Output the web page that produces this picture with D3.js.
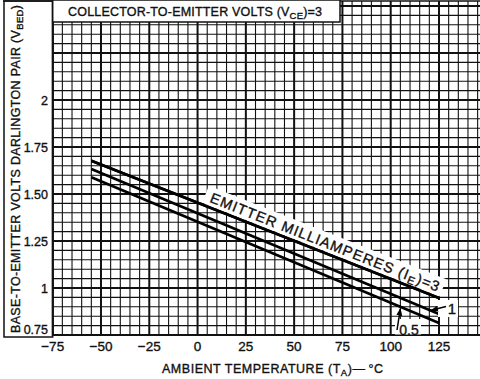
<!DOCTYPE html>
<html>
<head>
<meta charset="utf-8">
<script src="https://cdn.jsdelivr.net/npm/d3@7"></script>
<style>
  html, body { margin: 0; padding: 0; background: #fff; }
  svg { display: block; }
  text { font-family: "Liberation Sans", "DejaVu Sans", sans-serif; fill: #111; stroke: #111; stroke-width: 0.35; }
</style>
</head>
<body>
<svg id="chart" width="480" height="379"></svg>
<script>
// Ambient temperature (°C) at the ends of each curve
const temps = [-55, 125];
// Base-to-emitter volts of the Darlington pair for each emitter current
const vbedIE3 = [1.677, 0.947];
const vbedIE1 = [1.633, 0.862];
const vbedIE05 = [1.589, 0.814];
const seriesNames = ["3", "1", "0.5"];
const xTicks = [-75, -50, -25, 0, 25, 50, 75, 100, 125];
const yTicks = [0.75, 1, 1.25, 1.5, 1.75, 2];
const yTickLabels = ["0.75", "1", "1.25", "1.50", "1.75", "2"];

const svg = d3.select("#chart");
const W = 480, H = 379;
const plotLeft = 52.7, plotBottom = 335, plotTop = 1;

const x = d3.scaleLinear().domain([-75, 125]).range([plotLeft, 439]);
const y = d3.scaleLinear().domain([0.75, 2]).range([plotBottom, 100]);

// clip for the grid area
svg.append("defs").append("clipPath").attr("id", "plotClip")
  .append("rect").attr("x", plotLeft).attr("y", plotTop)
  .attr("width", W - plotLeft).attr("height", plotBottom - plotTop);

const grid = svg.append("g").attr("clip-path", "url(#plotClip)");

// vertical grid: every 5 °C, heavier every 25 °C
const vLines = d3.range(-75, 151, 5);
grid.selectAll("line.v").data(vLines).join("line")
  .attr("x1", d => x(d)).attr("x2", d => x(d))
  .attr("y1", plotTop).attr("y2", plotBottom)
  .attr("stroke", "#111")
  .attr("stroke-width", d => (d % 25 === 0) ? 2 : 1.1);

// horizontal grid: every 0.05 V, heavier every 0.25 V
const hLines = d3.range(0, 37).map(i => 0.75 + i * 0.05);
grid.selectAll("line.h").data(hLines).join("line")
  .attr("x1", plotLeft).attr("x2", W)
  .attr("y1", d => y(d)).attr("y2", d => y(d))
  .attr("stroke", "#111")
  .attr("stroke-width", (d, i) => (i % 5 === 0) ? 2 : 1.1);

// plot border
svg.append("line").attr("x1", plotLeft).attr("x2", plotLeft)
  .attr("y1", 0).attr("y2", plotBottom + 1).attr("stroke", "#111").attr("stroke-width", 2);
svg.append("line").attr("x1", plotLeft).attr("x2", W)
  .attr("y1", plotBottom).attr("y2", plotBottom).attr("stroke", "#111").attr("stroke-width", 2);
svg.append("line").attr("x1", 3).attr("x2", W)
  .attr("y1", 1).attr("y2", 1).attr("stroke", "#111").attr("stroke-width", 1.5);

// left panel frame holding the y-axis title and tick labels
svg.append("rect").attr("x", 4).attr("y", 1).attr("width", plotLeft - 4).attr("height", 336)
  .attr("fill", "none").attr("stroke", "#111").attr("stroke-width", 1.5);

// title box
svg.append("rect").attr("x", plotLeft).attr("y", 0).attr("width", 340 - plotLeft).attr("height", 22)
  .attr("fill", "#fff").attr("stroke", "#111").attr("stroke-width", 1.5);
const title = svg.append("text").attr("x", 68).attr("y", 16)
  .attr("font-size", 12.5).attr("textLength", 254).attr("lengthAdjust", "spacing");
title.append("tspan").text("COLLECTOR-TO-EMITTER VOLTS (V");
title.append("tspan").attr("font-size", 9.5).attr("dy", 3).text("CE");
title.append("tspan").attr("dy", -3).text(")=3");

// curves
const lineGen = d3.line().x(d => x(d[0])).y(d => y(d[1]));
const series = [vbedIE3, vbedIE1, vbedIE05];
svg.append("g").selectAll("path").data(series).join("path")
  .attr("d", vals => lineGen(temps.map((t, i) => [t, vals[i]])))
  .attr("fill", "none").attr("stroke", "#000").attr("stroke-width", 2.6)
  .attr("stroke-linecap", "butt");

// value on a curve at a given temperature
function vAt(vals, t) {
  return vals[0] + (vals[1] - vals[0]) * (t - temps[0]) / (temps[1] - temps[0]);
}

// curve label riding along the IE=3 line
const p0 = [x(temps[0]), y(vbedIE3[0])], p1 = [x(temps[1]), y(vbedIE3[1])];
const ang = Math.atan2(p1[1] - p0[1], p1[0] - p0[0]) * 180 / Math.PI;
const tStart = 4;
const lx = x(tStart), ly = y(vAt(vbedIE3, tStart));
const lbl = svg.append("g").attr("transform", `translate(${lx},${ly}) rotate(${ang})`);
const len = (p1[0] - lx) / Math.cos(ang * Math.PI / 180);
lbl.append("rect").attr("x", -4).attr("y", -20).attr("width", len + 4).attr("height", 18.5)
  .attr("fill", "#fff");
const ltxt = lbl.append("text").attr("x", 2).attr("y", -5)
  .attr("font-size", 14.5).attr("textLength", len - 6).attr("lengthAdjust", "spacing");
ltxt.append("tspan").text("EMITTER MILLIAMPERES (I");
ltxt.append("tspan").attr("font-size", 11).attr("dy", 3).text("E");
ltxt.append("tspan").attr("dy", -3).text(")=" + seriesNames[0]);
// redraw the top curve over the label backing edge
svg.append("path").attr("d", lineGen(temps.map((t, i) => [t, vbedIE3[i]])))
  .attr("fill", "none").attr("stroke", "#000").attr("stroke-width", 2.6);

// arrow marker
svg.append("defs").append("marker").attr("id", "arr")
  .attr("viewBox", "0 0 10 10").attr("refX", 9).attr("refY", 5)
  .attr("markerWidth", 5).attr("markerHeight", 5).attr("orient", "auto")
  .append("path").attr("d", "M0,1 L10,5 L0,9 Z").attr("fill", "#000");

// "1" callout
svg.append("rect").attr("x", 438).attr("y", 300).attr("width", 20).attr("height", 17).attr("fill", "#fff");
const t1 = 121;
svg.append("line").attr("x1", 446).attr("y1", 306.5)
  .attr("x2", x(t1)).attr("y2", y(vAt(vbedIE1, t1)) - 0.5)
  .attr("stroke", "#000").attr("stroke-width", 1.5).attr("marker-end", "url(#arr)");
svg.append("text").attr("x", 452).attr("y", 314).attr("font-size", 15)
  .attr("text-anchor", "middle").text(seriesNames[1]);

// "0.5" callout
svg.append("rect").attr("x", 395).attr("y", 319).attr("width", 26).attr("height", 15.5).attr("fill", "#fff");
const t05 = 105;
svg.append("line").attr("x1", 397).attr("y1", 330)
  .attr("x2", x(t05)).attr("y2", y(vAt(vbedIE05, t05)) + 2)
  .attr("stroke", "#000").attr("stroke-width", 1.5).attr("marker-end", "url(#arr)");
svg.append("text").attr("x", 409).attr("y", 335).attr("font-size", 14)
  .attr("text-anchor", "middle").text(seriesNames[2]);

// y tick labels
svg.append("g").selectAll("text").data(yTicks).join("text")
  .attr("x", 48).attr("y", d => Math.min(y(d), 329) + 4.5)
  .attr("text-anchor", "end").attr("font-size", 12.5)
  .text((d, i) => yTickLabels[i]);

// x tick labels
svg.append("g").selectAll("text").data(xTicks).join("text")
  .attr("x", d => x(d)).attr("y", 351)
  .attr("text-anchor", "middle").attr("font-size", 13.5)
  .text(d => d < 0 ? "\u2212" + Math.abs(d) : String(d));

// x axis title
const xt = svg.append("text").attr("x", 162).attr("y", 373)
  .attr("font-size", 12.5).attr("textLength", 221).attr("lengthAdjust", "spacing");
xt.append("tspan").text("AMBIENT  TEMPERATURE (T");
xt.append("tspan").attr("font-size", 9.5).attr("dy", 3).text("A");
xt.append("tspan").attr("dy", -3).text(")\u2014\u2009°C");

// y axis title
const yt = svg.append("text").attr("transform", "translate(20,333) rotate(-90)")
  .attr("font-size", 12.5).attr("textLength", 328).attr("lengthAdjust", "spacing");
yt.append("tspan").text("BASE-TO-EMITTER VOLTS   DARLINGTON PAIR (V");
yt.append("tspan").attr("font-size", 9.5).attr("dy", 3).text("BED");
yt.append("tspan").attr("dy", -3).text(")");
</script>
</body>
</html>
